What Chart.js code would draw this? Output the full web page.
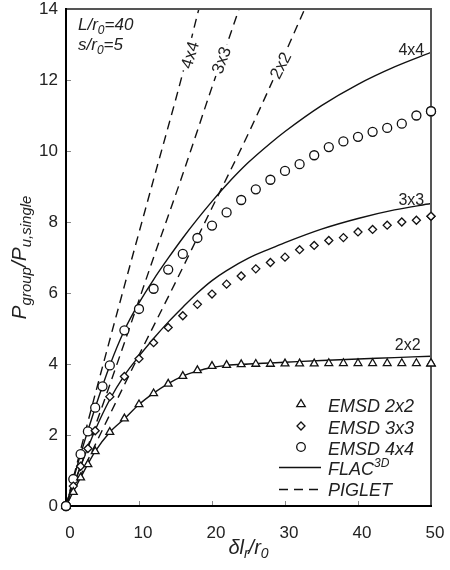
<!DOCTYPE html>
<html>
<head>
<meta charset="utf-8">
<script src="https://cdn.jsdelivr.net/npm/chart.js@4.4.0/dist/chart.umd.min.js"></script>
<style>
  body { margin: 0; background: #fff; }
  #wrap { width: 450px; height: 570px; }
</style>
</head>
<body>
<div id="wrap"><canvas id="myChart"></canvas></div>
<script>
'use strict';

// **************************** DATA ****************************

// EMSD measured points
let xEmsd = [0, 1, 2, 3, 4, 6, 8, 10, 12, 14, 16, 18, 20, 22, 24, 26, 28, 30, 32, 34, 36, 38, 40, 42, 44, 46, 48, 50];
let emsd2x2 = [0, 0.39, 0.8, 1.17, 1.54, 2.08, 2.46, 2.86, 3.17, 3.44, 3.66, 3.82, 3.94, 3.97, 3.99, 4.0, 4.0, 4.01, 4.01, 4.01, 4.02, 4.02, 4.02, 4.02, 4.02, 4.02, 4.02, 4.02];
let emsd3x3 = [0, 0.56, 1.12, 1.62, 2.12, 3.08, 3.65, 4.15, 4.6, 5.03, 5.36, 5.68, 5.97, 6.25, 6.48, 6.68, 6.86, 7.01, 7.22, 7.34, 7.48, 7.56, 7.72, 7.79, 7.91, 8.0, 8.05, 8.16];

let xEmsd4 = [0, 1, 2, 3, 4, 5, 6, 8, 10, 12, 14, 16, 18, 20, 22, 24, 26, 28, 30, 32, 34, 36, 38, 40, 42, 44, 46, 48, 50];
let emsd4x4 = [0, 0.76, 1.46, 2.1, 2.77, 3.37, 3.96, 4.95, 5.55, 6.12, 6.66, 7.1, 7.55, 7.9, 8.27, 8.62, 8.92, 9.19, 9.44, 9.63, 9.88, 10.11, 10.27, 10.4, 10.54, 10.65, 10.77, 11.0, 11.12];

// FLAC3D curves
let xFlac = [0, 2, 4, 6, 8, 10, 12, 14, 16, 18, 20, 22, 25, 28, 30, 35, 40, 45, 50];
let flac2x2 = [0, 0.8, 1.54, 2.08, 2.46, 2.86, 3.18, 3.45, 3.66, 3.8, 3.9, 3.96, 4.0, 4.03, 4.05, 4.1, 4.14, 4.18, 4.22];
let flac3x3 = [0, 1.12, 2.14, 3.0, 3.68, 4.22, 4.72, 5.18, 5.6, 6.0, 6.35, 6.63, 6.98, 7.25, 7.42, 7.8, 8.1, 8.34, 8.52];
let flac4x4 = [0, 1.46, 2.77, 3.96, 4.95, 5.72, 6.38, 6.98, 7.55, 8.08, 8.58, 9.05, 9.68, 10.22, 10.55, 11.28, 11.88, 12.37, 12.78];

// PIGLET curves
let xPig4x4 = [0, 4, 8, 12, 16, 18.2, 19];
let pig4x4 = [0, 3.15, 6.2, 9.2, 12.2, 14, 14.6];
let xPig3x3 = [0, 4, 8, 12, 16, 20, 23.7, 24.5];
let pig3x3 = [0, 2.25, 4.6, 7.0, 9.35, 11.8, 14, 14.5];
let xPig2x2 = [0, 5, 10, 15, 20, 25, 30, 32.7, 34];
let pig2x2 = [0, 2.15, 4.25, 6.3, 8.4, 10.5, 12.75, 14, 14.6];

// axis ticks
let xTicks = [0, 10, 20, 30, 40, 50];
let yTicks = [0, 2, 4, 6, 8, 10, 12, 14];

// **************************** HELPERS ****************************

const INK = '#111';
const FONT = '"Liberation Sans", Arial, sans-serif';

function toPoints(xs, ys) {
  return xs.map((x, i) => ({ x: x, y: ys[i] }));
}

function markerSet(label, xs, ys, style, radius) {
  return {
    label: label,
    data: toPoints(xs, ys),
    showLine: false,
    pointStyle: style,
    pointRadius: radius,
    pointBackgroundColor: '#fff',
    pointBorderColor: INK,
    pointBorderWidth: 1.3,
    clip: false
  };
}

function lineSet(label, xs, ys, dash) {
  return {
    label: label,
    data: toPoints(xs, ys),
    showLine: true,
    pointRadius: 0,
    borderColor: INK,
    borderWidth: 1.4,
    borderDash: dash,
    cubicInterpolationMode: 'monotone',
    fill: false
  };
}

// draws text pieces one after another (sub / superscripts)
function drawRich(ctx, parts, x, y, align) {
  let total = 0;
  parts.forEach(p => {
    ctx.font = (p.italic === false ? '' : 'italic ') + p.size + 'px ' + FONT;
    p.w = ctx.measureText(p.t).width;
    total += p.w;
  });
  let cx = x;
  if (align === 'center') cx = x - total / 2;
  ctx.textAlign = 'left';
  ctx.textBaseline = 'alphabetic';
  parts.forEach(p => {
    ctx.font = (p.italic === false ? '' : 'italic ') + p.size + 'px ' + FONT;
    ctx.fillText(p.t, cx, y + (p.dy || 0));
    cx += p.w;
  });
}

function drawMarker(ctx, style, x, y, r) {
  ctx.beginPath();
  if (style === 'triangle') {
    ctx.moveTo(x, y - r);
    ctx.lineTo(x + r * 0.95, y + r * 0.6);
    ctx.lineTo(x - r * 0.95, y + r * 0.6);
    ctx.closePath();
  } else if (style === 'rectRot') {
    ctx.moveTo(x, y - r);
    ctx.lineTo(x + r, y);
    ctx.lineTo(x, y + r);
    ctx.lineTo(x - r, y);
    ctx.closePath();
  } else {
    ctx.arc(x, y, r, 0, Math.PI * 2);
  }
  ctx.fillStyle = '#fff';
  ctx.fill();
  ctx.lineWidth = 1.3;
  ctx.strokeStyle = INK;
  ctx.stroke();
}

function noAutoPadding(scale) {
  scale.paddingTop = 0;
  scale.paddingBottom = 0;
  scale.paddingLeft = 0;
  scale.paddingRight = 0;
}

// **************************** DECORATION PLUGIN ****************************

const decorPlugin = {
  id: 'decor',
  afterDraw(chart) {
    const ctx = chart.ctx;
    const area = chart.chartArea;
    const xs = chart.scales.x;
    const ys = chart.scales.y;
    ctx.save();

    // tick marks (inside)
    ctx.strokeStyle = '#888';
    ctx.lineWidth = 1;
    yTicks.forEach(v => {
      const py = Math.round(ys.getPixelForValue(v)) + 0.5;
      ctx.beginPath();
      ctx.moveTo(area.left, py);
      ctx.lineTo(area.left + 5, py);
      ctx.stroke();
    });
    xTicks.forEach(v => {
      const px = Math.round(xs.getPixelForValue(v)) + 0.5;
      ctx.beginPath();
      ctx.moveTo(px, area.bottom);
      ctx.lineTo(px, area.bottom - 5);
      ctx.stroke();
    });

    // frame
    ctx.lineWidth = 2;
    ctx.strokeStyle = '#555';
    ctx.beginPath();
    ctx.moveTo(area.left, area.top);
    ctx.lineTo(area.right, area.top);
    ctx.lineTo(area.right, area.bottom);
    ctx.stroke();
    ctx.strokeStyle = '#000';
    ctx.beginPath();
    ctx.moveTo(area.left, area.top - 1);
    ctx.lineTo(area.left, area.bottom);
    ctx.lineTo(area.right + 1, area.bottom);
    ctx.stroke();

    // redraw origin / edge markers over the frame
    chart.data.datasets.forEach((ds, i) => {
      if (ds.showLine) return;
      const meta = chart.getDatasetMeta(i);
      meta.data.forEach((el, j) => {
        const v = ds.data[j];
        if (v.x === 0 || v.x === 50) drawMarker(ctx, ds.pointStyle, el.x, el.y, ds.pointRadius);
      });
    });

    ctx.fillStyle = '#222';

    // parameters box
    drawRich(ctx, [{ t: 'L/r', size: 17 }, { t: '0', size: 12, dy: 4 }, { t: '=40', size: 17 }], area.left + 12, area.top + 21, 'left');
    drawRich(ctx, [{ t: 's/r', size: 17 }, { t: '0', size: 12, dy: 4 }, { t: '=5', size: 17 }], area.left + 12, area.top + 41, 'left');

    // FLAC curve labels
    ctx.font = '16px ' + FONT;
    ctx.textAlign = 'center';
    ctx.textBaseline = 'alphabetic';
    ctx.fillText('4x4', xs.getPixelForValue(47.3), ys.getPixelForValue(12.7));
    ctx.fillText('3x3', xs.getPixelForValue(47.3), ys.getPixelForValue(8.49));
    ctx.fillText('2x2', xs.getPixelForValue(46.8), ys.getPixelForValue(4.39));

    // PIGLET curve labels (rotated, line broken behind them)
    const rot = [['4x4', 17.1, 12.7, -73], ['3x3', 21.4, 12.55, -69], ['2x2', 29.5, 12.4, -63]];
    rot.forEach(r => {
      ctx.save();
      ctx.translate(xs.getPixelForValue(r[1]), ys.getPixelForValue(r[2]));
      ctx.rotate(r[3] * Math.PI / 180);
      ctx.font = '17px ' + FONT;
      const w = ctx.measureText(r[0]).width;
      ctx.fillStyle = '#fff';
      ctx.fillRect(-w / 2 - 3, -8, w + 6, 16);
      ctx.fillStyle = '#222';
      ctx.textAlign = 'center';
      ctx.textBaseline = 'middle';
      ctx.fillText(r[0], 0, 0);
      ctx.restore();
    });

    // legend
    const lx = 301;
    const tx = 328;
    drawMarker(ctx, 'triangle', lx, 404, 4.5);
    drawMarker(ctx, 'rectRot', lx, 426, 4);
    drawMarker(ctx, 'circle', lx, 447, 4.3);
    ctx.strokeStyle = INK;
    ctx.lineWidth = 1.4;
    ctx.beginPath();
    ctx.moveTo(279, 467.5);
    ctx.lineTo(321, 467.5);
    ctx.stroke();
    ctx.setLineDash([9, 6]);
    ctx.beginPath();
    ctx.moveTo(279, 489.5);
    ctx.lineTo(321, 489.5);
    ctx.stroke();
    ctx.setLineDash([]);
    ctx.fillStyle = '#222';
    drawRich(ctx, [{ t: 'EMSD 2x2', size: 18 }], tx, 411.5, 'left');
    drawRich(ctx, [{ t: 'EMSD 3x3', size: 18 }], tx, 433.5, 'left');
    drawRich(ctx, [{ t: 'EMSD 4x4', size: 18 }], tx, 455, 'left');
    drawRich(ctx, [{ t: 'FLAC', size: 18 }, { t: '3D', size: 12, dy: -8 }], tx, 475, 'left');
    drawRich(ctx, [{ t: 'PIGLET', size: 18 }], tx, 496, 'left');

    // axis titles
    drawRich(ctx, [{ t: 'δl', size: 20 }, { t: 'r', size: 14, dy: 4 }, { t: '/r', size: 20 }, { t: '0', size: 14, dy: 4 }],
      (area.left + area.right) / 2, 554, 'center');

    ctx.save();
    ctx.translate(26, (area.top + area.bottom) / 2);
    ctx.rotate(-Math.PI / 2);
    drawRich(ctx, [{ t: 'P', size: 21 }, { t: 'group', size: 15, dy: 5 }, { t: '/P', size: 21 }, { t: 'u,single', size: 15, dy: 5 }], 0, 0, 'center');
    ctx.restore();

    ctx.restore();
  }
};

// **************************** CREATE CHART ****************************

let ctxEl = document.getElementById('myChart');

let myChartObj = {
  type: 'scatter',
  data: {
    datasets: [
      markerSet('EMSD 2x2', xEmsd, emsd2x2, 'triangle', 4.5),
      markerSet('EMSD 3x3', xEmsd, emsd3x3, 'rectRot', 4),
      markerSet('EMSD 4x4', xEmsd4, emsd4x4, 'circle', 4.5),
      lineSet('FLAC 2x2', xFlac, flac2x2, []),
      lineSet('FLAC 3x3', xFlac, flac3x3, []),
      lineSet('FLAC 4x4', xFlac, flac4x4, []),
      lineSet('PIGLET 2x2', xPig2x2, pig2x2, [9, 6]),
      lineSet('PIGLET 3x3', xPig3x3, pig3x3, [9, 6]),
      lineSet('PIGLET 4x4', xPig4x4, pig4x4, [9, 6])
    ]
  },
  options: {
    responsive: true,
    maintainAspectRatio: false,
    animation: false,
    layout: { padding: { top: 9, right: 19, left: 0, bottom: 0 } },
    plugins: {
      legend: { display: false },
      tooltip: { enabled: false }
    },
    scales: {
      x: {
        type: 'linear',
        min: 0,
        max: 50,
        afterBuildTicks: scale => { scale.ticks = xTicks.map(v => ({ value: v })); },
        afterFit: scale => { scale.height = 64; noAutoPadding(scale); },
        grid: { display: false, drawTicks: false },
        border: { display: false },
        ticks: { font: { size: 17, family: FONT }, color: '#222', padding: 17, labelOffset: 4, maxRotation: 0 }
      },
      y: {
        type: 'linear',
        min: 0,
        max: 14,
        afterBuildTicks: scale => { scale.ticks = yTicks.map(v => ({ value: v })); },
        afterFit: scale => { scale.width = 66; noAutoPadding(scale); },
        grid: { display: false, drawTicks: false },
        border: { display: false },
        ticks: { font: { size: 17, family: FONT }, color: '#222', padding: 8 }
      }
    }
  },
  plugins: [decorPlugin]
};

new Chart(ctxEl, myChartObj);
</script>
</body>
</html>
